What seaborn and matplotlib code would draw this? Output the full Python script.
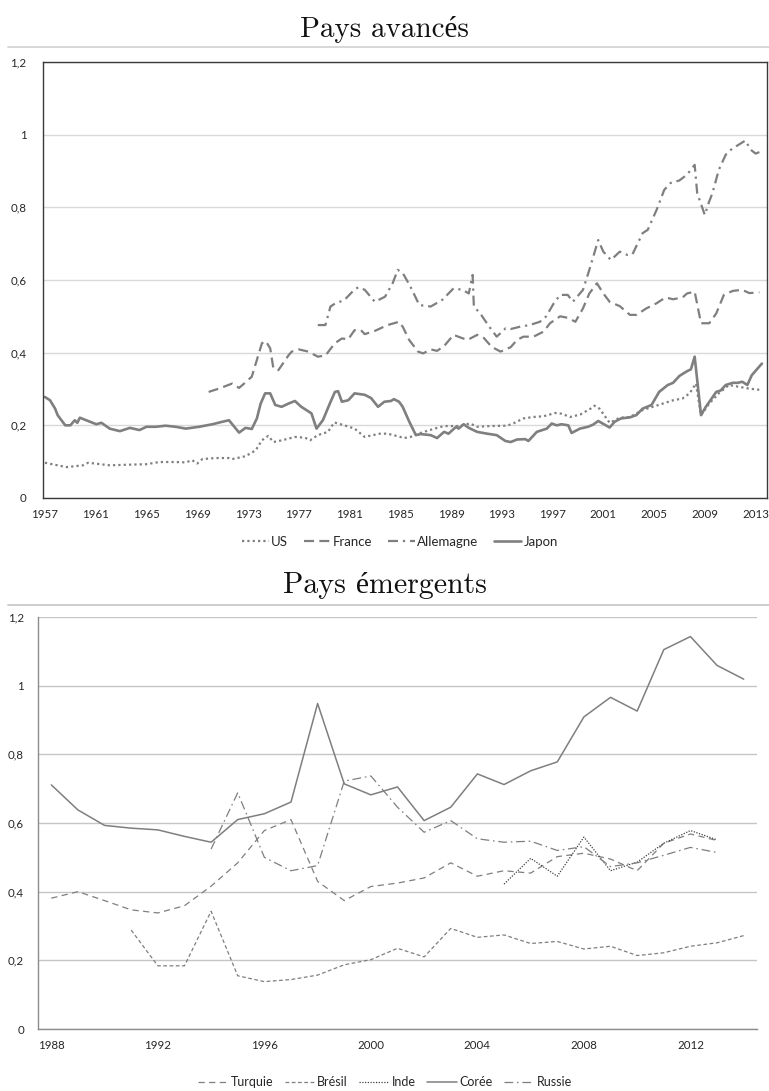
import matplotlib
matplotlib.use("Agg")
import matplotlib.pyplot as plt
import seaborn as sns
from matplotlib.lines import Line2D
from matplotlib.ticker import FuncFormatter, MultipleLocator

sns.set_style("white")
plt.rcParams['font.family'] = ['Lato', 'DejaVu Sans']

# ---- Pays avancés (quarterly-ish readings) ----
us_x = [1957.0, 1958.7, 1960.0, 1960.4, 1962.1, 1963.9, 1965.0, 1966.0, 1967.3, 1968.1,
        1968.6, 1969.0, 1969.4, 1970.45, 1971.5, 1971.75, 1972.8, 1973.6, 1974.1, 1974.6,
        1975.0, 1975.7, 1976.7, 1977.5, 1977.9, 1978.5, 1979.3, 1979.8, 1980.6, 1981.4,
        1982.2, 1982.7, 1983.4, 1984.0, 1984.8, 1985.3, 1985.8, 1986.6, 1987.7, 1988.45,
        1989.5, 1990.5, 1991.06, 1992.1, 1993.4, 1993.9, 1994.7, 1995.5, 1996.3, 1997.2,
        1997.7, 1998.4, 1999.2, 2000.0, 2000.3, 2000.7, 2001.5, 2002.3, 2003.1, 2004.1,
        2004.9, 2005.7, 2006.5, 2007.25, 2007.8, 2008.3, 2008.7, 2009.35, 2010.1, 2010.9,
        2011.7, 2012.5, 2013.5]
us_y = [0.097, 0.085, 0.090, 0.097, 0.090, 0.092, 0.093, 0.099, 0.099, 0.098,
        0.104, 0.095, 0.107, 0.110, 0.110, 0.107, 0.115, 0.131, 0.159, 0.171,
        0.154, 0.159, 0.168, 0.166, 0.159, 0.173, 0.182, 0.208, 0.200, 0.191,
        0.168, 0.172, 0.177, 0.177, 0.170, 0.165, 0.168, 0.179, 0.191, 0.198,
        0.198, 0.205, 0.196, 0.198, 0.199, 0.205, 0.219, 0.223, 0.225, 0.234,
        0.232, 0.223, 0.230, 0.246, 0.254, 0.246, 0.207, 0.221, 0.223, 0.242,
        0.251, 0.260, 0.269, 0.274, 0.288, 0.315, 0.228, 0.260, 0.288, 0.311,
        0.306, 0.301, 0.297]

fr_x = [1969.9, 1970.7, 1971.75, 1972.3, 1972.6, 1973.3, 1973.7, 1974.1, 1974.4, 1974.75,
        1975.0, 1975.4, 1976.2, 1976.45, 1977.0, 1977.75, 1978.5, 1979.1, 1979.85, 1980.4,
        1980.9, 1981.4, 1981.9, 1982.2, 1983.0, 1984.0, 1984.9, 1985.2, 1985.7, 1986.4,
        1986.8, 1987.4, 1987.9, 1988.45, 1989.2, 1989.8, 1990.3, 1991.06, 1991.6, 1992.2,
        1992.9, 1993.7, 1994.2, 1994.7, 1995.5, 1996.3, 1996.8, 1997.6, 1998.2, 1998.8,
        1999.4, 1999.9, 2000.5, 2001.0, 2001.5, 2002.3, 2003.1, 2003.6, 2004.4, 2005.2,
        2005.9, 2006.5, 2007.25, 2007.6, 2008.2, 2008.7, 2009.35, 2009.9, 2010.5, 2011.2,
        2011.95, 2012.5, 2013.3]
fr_y = [0.292, 0.301, 0.315, 0.303, 0.312, 0.334, 0.380, 0.426, 0.432, 0.412,
        0.357, 0.352, 0.393, 0.403, 0.409, 0.403, 0.389, 0.392, 0.426, 0.439,
        0.437, 0.462, 0.462, 0.451, 0.460, 0.476, 0.485, 0.471, 0.435, 0.403,
        0.398, 0.409, 0.405, 0.418, 0.449, 0.441, 0.435, 0.449, 0.440, 0.416,
        0.403, 0.415, 0.435, 0.444, 0.444, 0.458, 0.481, 0.500, 0.496, 0.485,
        0.522, 0.563, 0.591, 0.563, 0.540, 0.528, 0.504, 0.504, 0.522, 0.536,
        0.552, 0.547, 0.552, 0.563, 0.568, 0.481, 0.481, 0.508, 0.559, 0.570,
        0.573, 0.564, 0.566]

de_x = [1978.5, 1979.1, 1979.5, 1979.85, 1980.6, 1981.4, 1981.7, 1982.2, 1983.0, 1983.8,
        1984.4, 1984.8, 1985.2, 1985.8, 1986.5, 1987.4, 1988.3, 1989.2, 1989.9, 1990.4,
        1990.7, 1990.8, 1991.3, 1992.0, 1992.6, 1993.3, 1993.7, 1994.5, 1995.2, 1996.0,
        1996.5, 1997.1, 1997.6, 1998.2, 1998.6, 1999.4, 1999.9, 2000.6, 2001.0, 2001.6,
        2002.3, 2002.9, 2003.3, 2004.1, 2004.5, 2005.2, 2005.8, 2006.3, 2007.0, 2007.6,
        2008.2, 2008.4, 2009.0, 2009.3, 2009.6, 2010.1, 2010.65, 2011.2, 2011.56, 2012.2,
        2012.6, 2013.0, 2013.3]
de_y = [0.476, 0.476, 0.527, 0.535, 0.545, 0.574, 0.580, 0.573, 0.540, 0.554,
        0.591, 0.628, 0.619, 0.582, 0.531, 0.527, 0.545, 0.577, 0.573, 0.563,
        0.614, 0.527, 0.508, 0.472, 0.444, 0.467, 0.465, 0.472, 0.476, 0.485,
        0.500, 0.536, 0.559, 0.559, 0.540, 0.573, 0.628, 0.710, 0.678, 0.655,
        0.678, 0.669, 0.671, 0.729, 0.738, 0.793, 0.848, 0.867, 0.874, 0.890,
        0.917, 0.839, 0.779, 0.812, 0.839, 0.903, 0.945, 0.963, 0.970, 0.984,
        0.959, 0.948, 0.952]

jp_x = [1957.0, 1957.4, 1957.8, 1958.0, 1958.6, 1959.0, 1959.35, 1959.55, 1959.75, 1960.25,
        1961.05, 1961.45, 1962.1, 1962.9, 1963.7, 1964.45, 1965.0, 1965.75, 1966.5, 1967.3,
        1968.1, 1969.15, 1970.2, 1971.0, 1971.5, 1972.3, 1972.8, 1973.3, 1973.7, 1974.0,
        1974.35, 1974.75, 1975.15, 1975.65, 1976.2, 1976.7, 1977.2, 1978.0, 1978.4, 1978.9,
        1979.45, 1979.85, 1980.1, 1980.4, 1980.9, 1981.4, 1982.2, 1982.7, 1983.25, 1983.75,
        1984.27, 1984.5, 1984.9, 1985.19, 1985.71, 1986.23, 1986.6, 1987.4, 1987.9, 1988.45,
        1988.8, 1989.4, 1989.6, 1990.0, 1990.4, 1991.06, 1991.85, 1992.6, 1993.28, 1993.7,
        1994.2, 1994.85, 1995.1, 1995.76, 1996.55, 1996.94, 1997.33, 1997.7, 1998.24, 1998.5,
        1999.16, 1999.8, 2000.2, 2000.6, 2001.5, 2001.9, 2002.4, 2003.1, 2003.6, 2004.1,
        2004.8, 2005.4, 2006.08, 2006.5, 2007.0, 2007.6, 2007.9, 2008.2, 2008.7, 2009.08,
        2009.9, 2010.25, 2010.65, 2011.2, 2011.6, 2011.95, 2012.35, 2012.7, 2013.5]
jp_y = [0.278, 0.269, 0.246, 0.228, 0.200, 0.200, 0.214, 0.207, 0.221, 0.214,
        0.203, 0.207, 0.191, 0.184, 0.193, 0.187, 0.196, 0.196, 0.199, 0.196,
        0.191, 0.196, 0.203, 0.210, 0.214, 0.180, 0.193, 0.190, 0.219, 0.260,
        0.288, 0.288, 0.256, 0.251, 0.260, 0.267, 0.251, 0.233, 0.191, 0.214,
        0.260, 0.292, 0.294, 0.265, 0.269, 0.288, 0.284, 0.275, 0.251, 0.265,
        0.267, 0.272, 0.265, 0.251, 0.210, 0.173, 0.176, 0.173, 0.165, 0.182,
        0.177, 0.196, 0.191, 0.203, 0.193, 0.182, 0.177, 0.173, 0.157, 0.154,
        0.161, 0.162, 0.157, 0.182, 0.191, 0.205, 0.200, 0.203, 0.200, 0.179,
        0.191, 0.196, 0.202, 0.212, 0.194, 0.210, 0.219, 0.222, 0.228, 0.246,
        0.256, 0.292, 0.311, 0.317, 0.336, 0.349, 0.354, 0.389, 0.228, 0.251,
        0.292, 0.296, 0.311, 0.317, 0.317, 0.320, 0.311, 0.338, 0.370]

# ---- Pays émergents (annual) ----
years_em = list(range(1988, 2015))
tur_x = list(range(1988, 2014))
tur_y = [0.381, 0.400, 0.374, 0.347, 0.338, 0.359, 0.416, 0.484, 0.578, 0.610,
         0.430, 0.374, 0.415, 0.425, 0.440, 0.484, 0.445, 0.461, 0.454, 0.502,
         0.512, 0.495, 0.461, 0.541, 0.568, 0.549]
bre_x = list(range(1991, 2015))
bre_y = [0.288, 0.184, 0.184, 0.343, 0.155, 0.138, 0.144, 0.157, 0.187, 0.202,
         0.235, 0.210, 0.293, 0.267, 0.274, 0.249, 0.255, 0.233, 0.241, 0.214,
         0.222, 0.241, 0.251, 0.272]
ind_x = list(range(2005, 2014))
ind_y = [0.422, 0.497, 0.445, 0.559, 0.461, 0.486, 0.541, 0.578, 0.551]
cor_x = list(range(1988, 2015))
cor_y = [0.711, 0.638, 0.593, 0.585, 0.580, 0.561, 0.544, 0.610, 0.627, 0.661,
         0.948, 0.714, 0.682, 0.705, 0.607, 0.646, 0.743, 0.712, 0.752, 0.778,
         0.909, 0.966, 0.926, 1.105, 1.143, 1.059, 1.019]
rus_x = list(range(1994, 2014))
rus_y = [0.524, 0.688, 0.500, 0.461, 0.476, 0.722, 0.737, 0.646, 0.573, 0.607,
         0.554, 0.544, 0.547, 0.520, 0.531, 0.473, 0.484, 0.506, 0.529, 0.514]

W, H = 769, 1091
fig = plt.figure(figsize=(W / 100, H / 100), dpi=100)

def fig_rect(x0, y0, x1, y1):
    return [x0 / W, 1 - y1 / H, (x1 - x0) / W, (y1 - y0) / H]

comma = FuncFormatter(lambda v, p: ("%g" % round(v, 1)).replace(".", ","))
tick_col = "#262626"
line_col = "#7f7f7f"
title_font = ['cmr10', 'Liberation Serif']

# titles + separators
fig.text(0.5, 1 - 37 / H, "Pays avancés", ha="center", va="baseline",
         fontsize=21, family=title_font, color="#111111")
fig.add_artist(Line2D([8 / W, 1], [1 - 47 / H] * 2, color="#d4d4d4", lw=1.3))
fig.text(0.5, 1 - 593 / H, "Pays émergents", ha="center", va="baseline",
         fontsize=21.5, family=title_font, color="#111111")
fig.add_artist(Line2D([8 / W, 1], [1 - 605 / H] * 2, color="#c8c8c8", lw=1.3))

# ---------- top chart ----------
ax1 = fig.add_axes(fig_rect(43.3, 62, 767, 498))
sns.lineplot(x=us_x, y=us_y, ax=ax1, color=line_col, lw=1.6,
             linestyle=(0, (1, 1.4)), label="US", sort=False)
sns.lineplot(x=fr_x, y=fr_y, ax=ax1, color=line_col, lw=1.6,
             linestyle=(0, (4.5, 2.4)), label="France", sort=False)
sns.lineplot(x=de_x, y=de_y, ax=ax1, color=line_col, lw=1.6,
             linestyle=(0, (4.5, 2.2, 1, 2.2)), label="Allemagne", sort=False)
sns.lineplot(x=jp_x, y=jp_y, ax=ax1, color=line_col, lw=1.9,
             linestyle="-", label="Japon", sort=False)
ax1.set_xlim(1956.87, 2013.9)
ax1.set_ylim(0, 1.2)
ax1.set_xticks(list(range(1957, 2014, 4)))
ax1.yaxis.set_major_locator(MultipleLocator(0.2))
ax1.yaxis.set_major_formatter(comma)
ax1.grid(axis="y", color="#d9d9d9", lw=1)
ax1.set_axisbelow(True)
for s in ax1.spines.values():
    s.set_color("#3a3a3a")
    s.set_linewidth(1)
ax1.tick_params(length=0, labelsize=8.3, colors=tick_col, pad=8)
ax1.tick_params(axis="y", pad=12)
ax1.set_xlabel("")
ax1.set_ylabel("")
h1, l1 = ax1.get_legend_handles_labels()
ax1.get_legend().remove()
fig.legend(h1, l1, loc="center", bbox_to_anchor=(400 / W, 1 - 542 / H), ncol=4,
           frameon=False, fontsize=9.5, handlelength=2.0, handletextpad=0.2,
           columnspacing=1.2)

# ---------- bottom chart ----------
ax2 = fig.add_axes(fig_rect(38, 617, 757, 1029))
bl = 0.9
sns.lineplot(x=tur_x, y=tur_y, ax=ax2, color=line_col, lw=bl,
             linestyle=(0, (5, 3.5)), label="Turquie")
sns.lineplot(x=bre_x, y=bre_y, ax=ax2, color=line_col, lw=bl,
             linestyle=(0, (3, 2)), label="Brésil")
sns.lineplot(x=ind_x, y=ind_y, ax=ax2, color="#404040", lw=bl,
             linestyle=(0, (1, 1.2)), label="Inde")
sns.lineplot(x=cor_x, y=cor_y, ax=ax2, color=line_col, lw=1.1,
             linestyle="-", label="Corée")
sns.lineplot(x=rus_x, y=rus_y, ax=ax2, color=line_col, lw=bl,
             linestyle=(0, (7, 3, 1.3, 3)), label="Russie")
ax2.set_xlim(years_em[0] - 0.5, years_em[-1] + 0.5)
ax2.set_ylim(0, 1.2)
ax2.set_xticks(years_em[::4])
ax2.set_xticks([y - 0.5 for y in years_em] + [years_em[-1] + 0.5], minor=True)
ax2.yaxis.set_major_locator(MultipleLocator(0.2))
ax2.yaxis.set_major_formatter(comma)
ax2.grid(axis="y", color="#c6c6c6", lw=1)
ax2.set_axisbelow(True)
ax2.spines["top"].set_visible(False)
ax2.spines["right"].set_visible(False)
for s in ("left", "bottom"):
    ax2.spines[s].set_color("#8c8c8c")
    ax2.spines[s].set_linewidth(1)
ax2.tick_params(axis="x", which="major", length=0, labelsize=8.3, colors=tick_col, pad=8)
ax2.tick_params(axis="x", which="minor", length=4, color="#8c8c8c", width=0.8)
ax2.tick_params(axis="y", length=0, labelsize=8.3, colors=tick_col, pad=10)
ax2.set_xlabel("")
ax2.set_ylabel("")
h2, l2 = ax2.get_legend_handles_labels()
ax2.get_legend().remove()
fig.legend(h2, l2, loc="center", bbox_to_anchor=(385 / W, 1 - 1082 / H), ncol=5,
           frameon=False, fontsize=9, handlelength=2.4, handletextpad=0.2,
           columnspacing=0.9)

fig.savefig("out.png", dpi=100)
